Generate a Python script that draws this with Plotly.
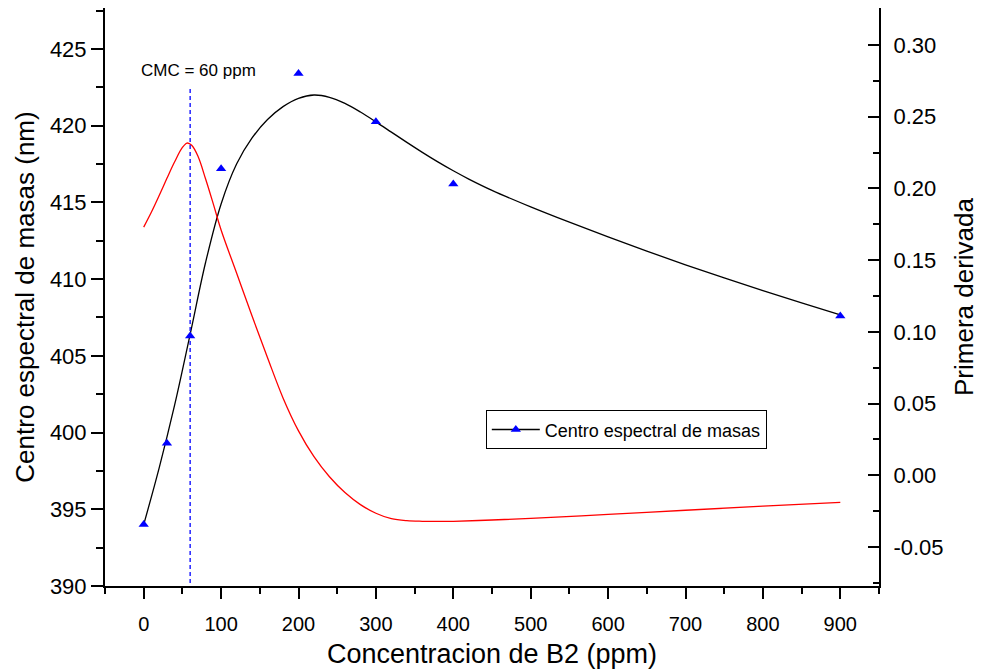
import plotly.graph_objects as go

# Measured points (blue triangles)
conc_pts = [0, 30, 60, 100, 200, 300, 400, 900]
centro_pts = [394.0, 399.3, 406.3, 417.2, 423.4, 420.25, 416.2, 407.6]

# Fitted curve (black)
conc_fit = [0, 20, 40, 60, 80, 100, 120, 140, 160, 180, 200, 220, 240, 260, 280, 300, 320, 340,
            360, 380, 400, 420, 450, 500, 550, 600, 650, 700, 750, 800, 850, 900]
centro_fit = [394.0, 397.7, 401.8, 406.4, 411.1, 414.9, 417.5, 419.2, 420.4, 421.24, 421.78, 422.0,
              421.85, 421.45, 420.89, 420.25, 419.58, 418.91, 418.26, 417.64, 417.06, 416.52,
              415.785, 414.71, 413.71, 412.75, 411.825, 410.935, 410.075, 409.245, 408.445, 407.67]

# First derivative (red), right axis
conc_der = [0, 10, 20, 30, 40, 50, 56, 62, 70, 80, 90, 100, 120, 140, 160, 180, 200, 220, 240,
            260, 280, 300, 320, 340, 360, 380, 400, 450, 500, 600, 700, 800, 900]
derivada = [0.173, 0.1835, 0.195, 0.207, 0.2185, 0.2285, 0.2316, 0.2300, 0.2225, 0.2065, 0.189,
            0.171, 0.141, 0.111, 0.082, 0.054, 0.031, 0.013, -0.001, -0.012, -0.0204, -0.0264,
            -0.0302, -0.0316, -0.0320, -0.0321, -0.0320, -0.0311, -0.0300, -0.0272, -0.0243,
            -0.0215, -0.0188]

cmc = 60

FONT = "Liberation Sans, Arial, sans-serif"

fig = go.Figure()
fig.add_trace(go.Scatter(x=conc_fit, y=centro_fit, mode="lines",
                         line=dict(color="black", width=1.3, shape="spline", smoothing=1.0),
                         showlegend=False, hoverinfo="skip"))
fig.add_trace(go.Scatter(x=conc_der, y=derivada, mode="lines", yaxis="y2",
                         line=dict(color="red", width=1.3, shape="spline", smoothing=1.0), showlegend=False))
fig.add_trace(go.Scatter(x=conc_pts, y=centro_pts, mode="markers",
                         marker=dict(symbol="triangle-up", color="blue", size=9), showlegend=False))
fig.add_trace(go.Scatter(x=[None], y=[None], mode="lines+markers", name="Centro espectral de masas",
                         line=dict(color="black", width=1.3),
                         marker=dict(symbol="triangle-up", color="blue", size=9)))

fig.add_shape(type="line", x0=cmc, x1=cmc, y0=390.2, y1=422.5, xref="x", yref="y",
              line=dict(color="blue", width=1.3, dash="4px,3px"))
fig.add_annotation(x=cmc + 11, y=423.6, text="CMC = 60 ppm", showarrow=False,
                   font=dict(family=FONT, size=17, color="black"))

fig.update_layout(
    width=982, height=672,
    margin=dict(l=105, r=101, t=8, b=85),
    plot_bgcolor="white", paper_bgcolor="white",
    font=dict(family=FONT, color="black"),
    xaxis=dict(range=[-50, 950], tickmode="array", tickvals=[0, 100, 200, 300, 400, 500, 600, 700, 800, 900],
               ticks="outside", ticklen=11, tickwidth=2, tickcolor="black", ticklabelstandoff=8,
               showline=True, linecolor="black", linewidth=2, showgrid=False, zeroline=False,
               minor=dict(ticks="outside", ticklen=6, tickwidth=2, tickcolor="black", dtick=50, tick0=-50, showgrid=False),
               tickfont=dict(size=20),
               title=dict(text="Concentracion de B2 (ppm)", font=dict(size=27), standoff=10)),
    yaxis=dict(range=[390, 427.67], tickmode="array", tickvals=[390, 395, 400, 405, 410, 415, 420, 425],
               ticks="outside", ticklen=12, tickwidth=2, tickcolor="black",
               showline=True, linecolor="black", linewidth=2, showgrid=False, zeroline=False,
               minor=dict(ticks="outside", ticklen=7, tickwidth=2, tickcolor="black", dtick=2.5, tick0=390, showgrid=False),
               tickfont=dict(size=22),
               title=dict(text="Centro espectral de masas (nm)", font=dict(size=26), standoff=8)),
    yaxis2=dict(range=[-0.0771, 0.3257], overlaying="y", side="right", anchor="x",
                tickmode="array", tickvals=[-0.05, 0, 0.05, 0.10, 0.15, 0.20, 0.25, 0.30],
                ticktext=["-0.05", "0.00", "0.05", "0.10", "0.15", "0.20", "0.25", "0.30"],
                ticks="inside", ticklen=11, tickwidth=2, tickcolor="black", ticklabelstandoff=8,
                showline=True, linecolor="black", linewidth=2, showgrid=False, zeroline=False,
                minor=dict(ticks="inside", ticklen=6, tickwidth=2, tickcolor="black", dtick=0.025, tick0=0, showgrid=False),
                tickfont=dict(size=22),
                title=dict(text="Primera derivada", font=dict(size=26), standoff=12)),
    legend=dict(x=0.492, y=0.304, xanchor="left", yanchor="top", bgcolor="white",
                bordercolor="black", borderwidth=1, font=dict(family=FONT, size=18),
                itemwidth=48, tracegroupgap=0),
)

fig.write_html("out.html")
